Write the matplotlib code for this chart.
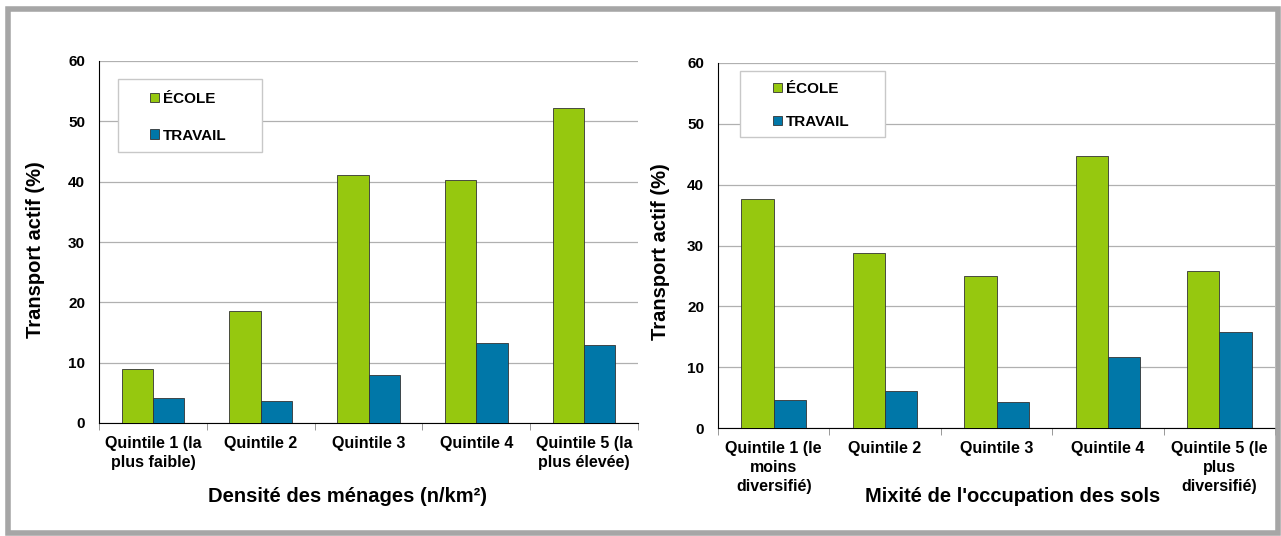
import numpy as np
import matplotlib.pyplot as plt
from matplotlib.patches import Rectangle

plt.rcParams['font.family'] = ['Liberation Sans', 'DejaVu Sans']
plt.rcParams['font.weight'] = 'bold'

# Active transport share (%) by quintile
density_labels = ['Quintile 1 (la\nplus faible)', 'Quintile 2', 'Quintile 3',
                  'Quintile 4', 'Quintile 5 (la\nplus élevée)']
density_ecole = [9.0, 18.5, 41.1, 40.3, 52.2]
density_travail = [4.1, 3.6, 7.9, 13.2, 12.9]

mix_labels = ['Quintile 1 (le\nmoins\ndiversifié)', 'Quintile 2', 'Quintile 3',
              'Quintile 4', 'Quintile 5 (le\nplus\ndiversifié)']
mix_ecole = [37.7, 28.7, 25.0, 44.7, 25.8]
mix_travail = [4.6, 6.1, 4.3, 11.6, 15.7]

GREEN = '#96c80f'
BLUE = '#0077a8'
W, H = 1281, 536


def fx(px):
    return px / W


def fy(py):
    # pixel rows counted from the top
    return (H - py) / H


def px_axes(fig, x0, y_top, x1, y_bottom):
    """Axes placed by pixel coordinates (origin top-left)."""
    return fig.add_axes([fx(x0), fy(y_bottom), (x1 - x0) / W, (y_bottom - y_top) / H])


def draw_panel(ax, labels, ecole, travail):
    x = np.arange(len(labels))
    bw = 0.29
    b1 = ax.bar(x - bw / 2, ecole, bw, color=GREEN, edgecolor='#333333', linewidth=0.6,
                label='ÉCOLE', zorder=3)
    b2 = ax.bar(x + bw / 2, travail, bw, color=BLUE, edgecolor='#333333', linewidth=0.6,
                label='TRAVAIL', zorder=3)
    ax.set_xlim(-0.5, len(labels) - 0.5)
    ax.set_ylim(0, 60)
    ax.set_yticks(range(0, 61, 10))
    ax.yaxis.grid(True, color='#b0b0b0', linewidth=0.9, zorder=0)
    ax.set_axisbelow(True)
    for s in ('top', 'right'):
        ax.spines[s].set_visible(False)
    ax.set_xticks(x)
    ax.set_xticklabels(labels, fontsize=11.5, fontweight='bold', linespacing=1.32)
    ax.tick_params(axis='x', length=0, pad=9.5)
    ax.set_xticks(np.arange(len(labels) + 1) - 0.5, minor=True)
    ax.tick_params(axis='x', which='minor', length=5, color='#888888')
    ax.tick_params(axis='y', labelsize=11, length=0, pad=10)
    for t in ax.get_yticklabels():
        t.set_fontweight('bold')
    return b1, b2


def add_legend(fig, handles, box, handle_x, first_y, spacing):
    x0, y0, x1, y1 = box
    fig.patches.append(Rectangle((fx(x0), fy(y1)), (x1 - x0) / W, (y1 - y0) / H,
                                 transform=fig.transFigure, facecolor='white',
                                 edgecolor='#c8c8c8', linewidth=1.0, zorder=2))
    leg = fig.legend(handles, ['ÉCOLE', 'TRAVAIL'], loc='upper left',
                     bbox_to_anchor=(fx(handle_x), fy(first_y - 5)),
                     frameon=False, fontsize=11, handlelength=0.6, handleheight=0.6,
                     handletextpad=0.25, labelspacing=spacing, borderpad=0,
                     borderaxespad=0)
    leg.set_zorder(3)
    for t in leg.get_texts():
        t.set_fontweight('bold')


fig = plt.figure(figsize=(W / 100, H / 100), dpi=100)

# outer frame
fig.patches.append(Rectangle((fx(8), fy(533)), 1 - 11 / W, 1 - 12 / H, transform=fig.transFigure,
                             fill=False, edgecolor='#a6a6a6', linewidth=4, zorder=1))

# left panel: household density
ax1 = px_axes(fig, 99, 61, 638, 423)
h1 = draw_panel(ax1, density_labels, density_ecole, density_travail)
add_legend(fig, h1, (118, 79, 262, 152), 150, 97, 1.48)
fig.text(fx(347), fy(497), 'Densité des ménages (n/km²)', ha='center', va='center',
         fontsize=14.5, fontweight='bold')
fig.text(fx(36), fy(250), 'Transport actif (%)', ha='center', va='center',
         rotation=90, fontsize=14.5, fontweight='bold')

# right panel: land-use mix
ax2 = px_axes(fig, 718, 63, 1275, 428)
h2 = draw_panel(ax2, mix_labels, mix_ecole, mix_travail)
add_legend(fig, h2, (740, 71, 885, 137), 773, 87, 1.23)
fig.text(fx(1013), fy(497), "Mixité de l'occupation des sols", ha='center', va='center',
         fontsize=14.5, fontweight='bold')
fig.text(fx(661), fy(252), 'Transport actif (%)', ha='center', va='center',
         rotation=90, fontsize=14.5, fontweight='bold')

fig.savefig('out.png', dpi=100)
